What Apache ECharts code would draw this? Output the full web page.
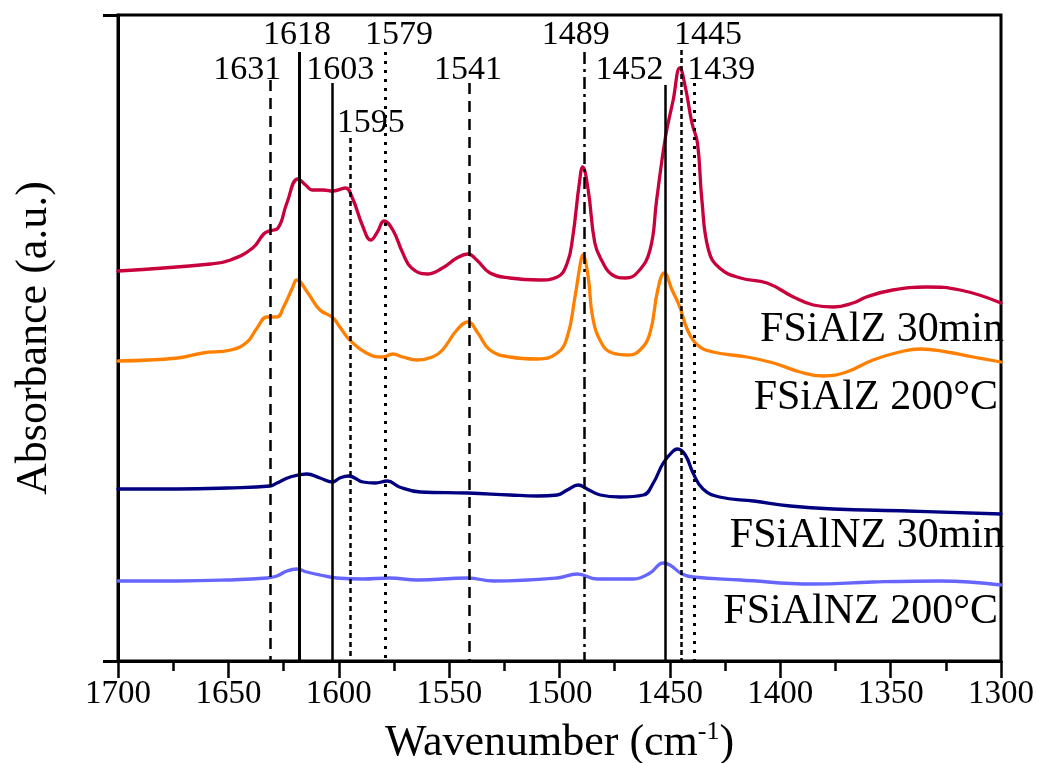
<!DOCTYPE html>
<html>
<head>
<meta charset="utf-8">
<script src="https://cdn.jsdelivr.net/npm/echarts@6/dist/echarts.min.js"></script>
<style>
  html, body { margin: 0; padding: 0; background: #fff; }
  #chart { width: 1038px; height: 763px; }
</style>
</head>
<body>
<div id="chart"></div>
<script>
// spectra: [wavenumber, absorbance (a.u.)]
const fsialz30 = [
  [1700, 390], [1658, 397], [1649, 401], [1639, 413], [1634, 427], [1631.5, 430],
  [1627.5, 433], [1623.5, 458], [1618.5, 482], [1615, 476], [1612, 471], [1607, 471],
  [1602.5, 470], [1597, 473], [1594, 464], [1589, 434], [1585.5, 421], [1582.5, 429],
  [1579.5, 440], [1575.5, 431], [1571, 408], [1567, 393], [1560, 387], [1553, 393],
  [1546.5, 403], [1541.5, 407], [1537.5, 401], [1531.5, 388], [1522.5, 383], [1509, 381],
  [1501, 384], [1496.5, 398], [1494, 424], [1491, 478], [1489.5, 494], [1487, 471],
  [1484, 418], [1481, 401], [1476, 386], [1470, 383], [1464.5, 389], [1459, 411],
  [1456, 461], [1452, 524], [1448.5, 561], [1445.5, 593], [1443, 574], [1440, 538],
  [1437.5, 518], [1435.5, 461], [1432.5, 411], [1427.5, 393], [1418, 383], [1406, 378],
  [1394, 364], [1385, 356], [1376, 354], [1367, 358], [1361, 364], [1349, 371],
  [1333.5, 374], [1318.5, 371], [1300, 358]
];
const fsialz200 = [
  [1700, 300], [1673, 303], [1661.5, 308], [1649, 311], [1641.5, 319], [1637, 333],
  [1632.5, 344], [1628, 344], [1625, 354], [1621, 373], [1619, 381], [1614, 368],
  [1608.5, 351], [1603, 344], [1599.5, 334], [1595, 321], [1587.5, 308], [1580, 304],
  [1575.5, 307], [1571, 304], [1564.5, 301], [1557.5, 304], [1553, 311], [1546.5, 331],
  [1541.5, 339], [1537, 328], [1531.5, 311], [1522.5, 304], [1510, 302], [1501, 308],
  [1496.5, 324], [1493, 364], [1490.5, 398], [1489.5, 406], [1487, 384], [1485, 344],
  [1481, 318], [1476, 308], [1469, 306], [1463.5, 311], [1459, 328], [1455.5, 371],
  [1452.5, 388], [1449, 371], [1445.5, 354], [1442, 331], [1437.5, 316], [1430.5, 309],
  [1415, 304], [1403, 298], [1391, 289], [1380.5, 285], [1370, 289], [1358, 301],
  [1346, 309], [1336.5, 312], [1324.5, 309], [1312.5, 304], [1300, 299]
];
const fsialnz30 = [
  [1700, 172], [1673, 172], [1650.5, 173], [1631, 175], [1628, 178], [1622, 184],
  [1614.5, 187], [1608.5, 183], [1603, 179], [1599.5, 183], [1595.5, 185], [1589, 179],
  [1583.5, 178], [1578, 180], [1572.5, 174], [1563, 169], [1541.5, 168], [1522.5, 166],
  [1510, 165], [1501, 166], [1496.5, 171], [1491.5, 176], [1487.5, 172], [1481.5, 166],
  [1472.5, 164], [1462, 166], [1457.5, 178], [1453, 198], [1448.5, 210], [1446.5, 212],
  [1443, 206], [1439.5, 188], [1435, 172], [1427.5, 164], [1412, 160], [1395.5, 155],
  [1376, 152], [1342.5, 150], [1300, 147]
];
const fsialnz200 = [
  [1700, 80], [1673, 80], [1650.5, 81], [1632.5, 83], [1628, 85], [1623.5, 90],
  [1619, 92], [1614.5, 89], [1608.5, 86], [1601, 83], [1589, 82], [1577, 83],
  [1564.5, 81], [1541.5, 83], [1530, 80], [1501, 83], [1492, 87], [1483, 82],
  [1466.5, 82], [1459, 88], [1453, 98], [1450, 96], [1444.5, 87], [1439.5, 84],
  [1418, 81], [1385, 77], [1358, 79], [1327.5, 80], [1300, 76]
];

// assigned bands
const peakWaves = [1631, 1618, 1603, 1595, 1579, 1541, 1489, 1452, 1445, 1439];
const peakTops  = [581, 609, 578, 523, 609, 578, 609, 576, 611, 578];
const xTicks = [1700, 1650, 1600, 1550, 1500, 1450, 1400, 1350, 1300];
const seriesNames = ['FSiAlZ 30min', 'FSiAlZ 200°C', 'FSiAlNZ 30min', 'FSiAlNZ 200°C'];

const FONT = '"Liberation Serif", "DejaVu Serif", serif';
const colors = ['#C8003C', '#FF8000', '#000080', '#6666FF'];
const dash = {
  dashed: [11, 7], dense: [5, 4], dotted: [3, 6], dashdot: [12, 5, 3, 5], short: [5, 3]
};
const peakLine = [
  { type: dash.dashed, width: 2.5 },
  { type: 'solid', width: 3 },
  { type: 'solid', width: 2.5 },
  { type: dash.dense, width: 2.5 },
  { type: dash.dotted, width: 3 },
  { type: dash.dashed, width: 2.5 },
  { type: dash.dashdot, width: 2.5 },
  { type: 'solid', width: 2.5 },
  { type: dash.short, width: 2.5 },
  { type: dash.dotted, width: 3 }
];
// label centre relative to top of its line, px
const labelOffset = [[-23, -10], [-2, -17], [8, -13], [21, -15], [14, -17],
  [-1, -13], [-8, -17], [-36, -15], [27, -15], [27, -13]];

const chart = echarts.init(document.getElementById('chart'));

const curves = [fsialz30, fsialz200, fsialnz30, fsialnz200].map((d, i) => ({
  name: seriesNames[i],
  type: 'line',
  data: d,
  showSymbol: false,
  smooth: 0.45,
  lineStyle: { color: colors[i], width: 3.3, join: 'round', cap: 'round' },
  z: 3,
  silent: true
}));

const bandLines = {
  type: 'line',
  data: [],
  silent: true,
  z: 4,
  markLine: {
    symbol: ['none', 'none'],
    silent: true,
    animation: false,
    label: { show: false },
    emphasis: { disabled: true },
    data: peakWaves.map((w, i) => [
      { coord: [w, peakTops[i]], lineStyle: Object.assign({ color: '#000', opacity: 1 }, peakLine[i]) },
      { coord: [w, 0] }
    ])
  }
};

const bandLabels = {
  type: 'scatter',
  symbolSize: 0,
  silent: true,
  z: 5,
  itemStyle: { opacity: 1 },
  data: peakWaves.map((w, i) => ({
    value: [w, peakTops[i]],
    label: {
      show: true,
      position: 'inside',
      offset: labelOffset[i],
      formatter: String(w),
      fontFamily: FONT,
      fontSize: 34,
      color: '#000',
      opacity: 1,
      textBorderWidth: 0
    }
  }))
};

// series names sit at the right, under their curves
const nameSpots = [[1004, 330], [998, 398], [1004, 536], [998, 612]];

chart.setOption({
  animation: false,
  backgroundColor: '#fff',
  grid: {
    left: 118, right: 37, top: 15, bottom: 102,
    outerBoundsMode: 'none',
    containLabel: false,
    show: true, borderColor: '#000', borderWidth: 3, backgroundColor: 'transparent'
  },
  xAxis: {
    type: 'value',
    min: 1300, max: 1700, interval: 50, inverse: true,
    axisLine: { show: true, lineStyle: { color: '#000', width: 3 } },
    axisTick: { show: true, inside: false, length: 17, lineStyle: { color: '#000', width: 2.5 } },
    minorTick: { show: true, splitNumber: 2, length: 10, lineStyle: { color: '#000', width: 2.5 } },
    splitLine: { show: false },
    axisLabel: {
      fontFamily: FONT, fontSize: 33, color: '#000', margin: 17,
      showMinLabel: true, showMaxLabel: true,
      formatter: v => xTicks.includes(v) ? String(v) : ''
    },
    name: '{n|Wavenumber (cm}{s|-1}{n|)}',
    nameLocation: 'middle',
    nameGap: 58,
    nameTextStyle: {
      rich: {
        n: { fontFamily: FONT, fontSize: 44, color: '#000', lineHeight: 48 },
        s: { fontFamily: FONT, fontSize: 26, color: '#000', lineHeight: 48, verticalAlign: 'top' }
      }
    }
  },
  yAxis: {
    type: 'value',
    min: 0, max: 646, interval: 646,
    axisLine: { show: true, lineStyle: { color: '#000', width: 3 } },
    axisTick: { show: true, inside: false, length: 15, lineStyle: { color: '#000', width: 3 } },
    axisLabel: { show: false },
    splitLine: { show: false },
    name: 'Absorbance (a.u.)',
    nameLocation: 'middle',
    nameGap: 62,
    nameTextStyle: { fontFamily: FONT, fontSize: 44, color: '#000' }
  },
  graphic: seriesNames.map((t, i) => ({
    type: 'text',
    x: nameSpots[i][0],
    y: nameSpots[i][1],
    z: 10,
    style: {
      text: t,
      font: '42px ' + FONT,
      fill: '#000',
      textAlign: 'right',
      textVerticalAlign: 'middle'
    }
  })),
  series: [...curves, bandLines, bandLabels]
});
</script>
</body>
</html>
